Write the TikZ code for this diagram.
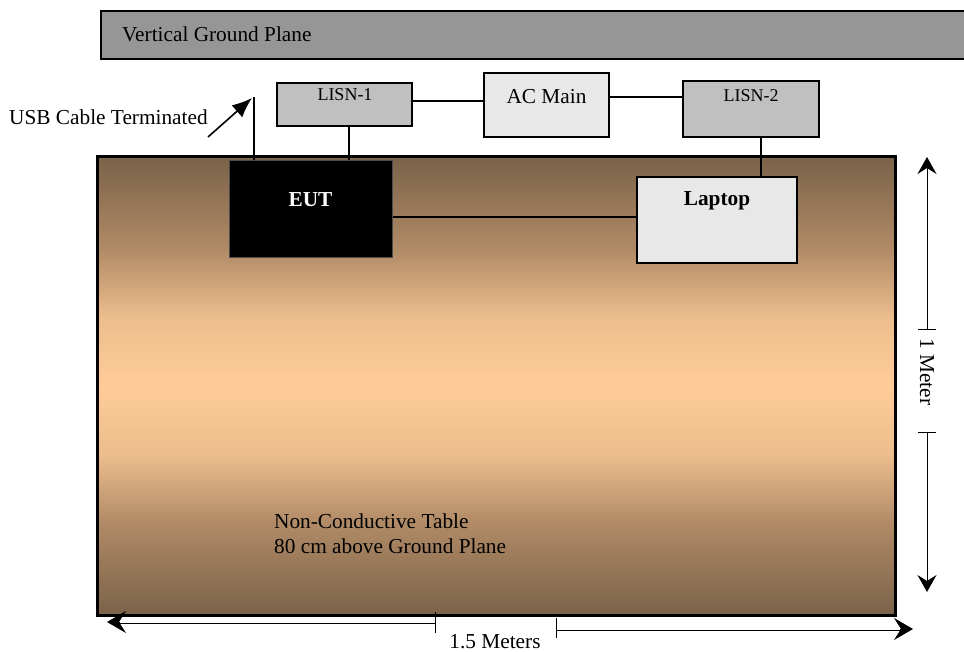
\documentclass[tikz,border=0pt]{standalone}
\usepackage{fontspec}
\setmainfont{Liberation Serif}
\usetikzlibrary{arrows.meta}
\definecolor{vgp}{HTML}{969696}
\definecolor{lisn}{HTML}{C0C0C0}
\definecolor{lightbox}{HTML}{E8E8E8}
\definecolor{tbrown}{HTML}{7A6249}
\definecolor{tmid}{HTML}{B08A66}
\definecolor{tlight}{HTML}{ECBD8D}
\definecolor{peach}{HTML}{FFCC99}
\pgfdeclareverticalshading{tableshade}{100bp}{color(0bp)=(tbrown); color(25bp)=(tbrown); color(35bp)=(tmid); color(42.5bp)=(tlight); color(50bp)=(peach); color(57.5bp)=(tlight); color(65bp)=(tmid); color(75bp)=(tbrown); color(100bp)=(tbrown)}
\tikzset{
  box/.style={draw=black, line width=1.4pt, inner sep=0pt},
  conn/.style={line width=1.4pt},
  txt/.style={font=\fontsize{21.3}{25}\selectfont, inner sep=0pt},
  smalltxt/.style={font=\fontsize{18}{21}\selectfont, inner sep=0pt},
  dimline/.style={line width=1pt},
  dimtip/.style={-{Stealth[length=17pt,width=19pt,inset=6pt]}},
  htip/.style={-{Stealth[length=19pt,width=22pt,inset=7pt]}},
  dbl/.style={double=white, double distance=1.6pt, line width=0.7pt}
}
\begin{document}
\begin{tikzpicture}[x=1pt,y=-1pt]
\useasboundingbox (0,0) rectangle (964,652);
% vertical ground plane
\node[box, fill=vgp, line width=1.6pt, minimum width=900, minimum height=48, anchor=north west] (vgp) at (100,10) {};
\node[txt, anchor=west] (vgpt) at (122,34) {Vertical Ground Plane};
% table
\node[draw=black, line width=3pt, shading=tableshade, minimum width=798, minimum height=459, anchor=north west, inner sep=0pt] (table) at (96,155) {};
\node[txt, anchor=north west, align=left] (tablet) at (274,514) {Non-Conductive Table\\80 cm above Ground Plane};
% boxes
\node[box, fill=lisn, minimum width=135, minimum height=43] (lisn1) at (344.5,104.5) {};
\node[smalltxt] (lisn1t) at (345,95) {LISN-1};
\node[box, fill=lightbox, minimum width=125, minimum height=64] (acmain) at (546.5,105) {};
\node[txt] (acmaint) at (546.5,97) {AC Main};
\node[box, fill=lisn, minimum width=136, minimum height=56] (lisn2) at (751,109) {};
\node[smalltxt] (lisn2t) at (751,96) {LISN-2};
\node[draw=black!70, line width=1pt, fill=black, minimum width=163, minimum height=97, inner sep=0pt] (eut) at (310.5,209.5) {};
\node[txt, text=white, font=\fontsize{21.3}{25}\selectfont\bfseries] (eutt) at (310.5,200) {EUT};
\node[box, fill=lightbox, minimum width=160, minimum height=86] (laptop) at (717,220) {};
\node[txt, font=\fontsize{21.3}{25}\selectfont\bfseries] (laptopt) at (717,201) {Laptop};
% connectors
\draw[conn] (lisn1.east |- 0,101) -- (acmain.west |- 0,101);
\draw[conn] (acmain.east |- 0,97) -- (lisn2.west |- 0,97);
\draw[conn] (lisn1.south -| 349,0) -- (eut.north -| 349,0);
\draw[conn] (lisn2.south -| 761,0) -- (laptop.north -| 761,0);
\draw[conn] (eut.east |- 0,217) -- (laptop.west |- 0,217);
\coordinate (usbtop) at (254,97);
\draw[conn] (eut.north -| usbtop) -- (usbtop);
% USB label and arrow
\node[txt, anchor=west] (usbt) at (9,117) {USB Cable Terminated};
\coordinate (usbtail) at (208,137);
\coordinate (usbtip) at (252,98);
\draw[line width=1.6pt, -{Latex[length=20pt,width=16pt]}] (usbtail) -- (usbtip);
% vertical dimension
\coordinate (vtop) at (927,157);
\coordinate (vt1) at (927,330);
\coordinate (vt2) at (927,432);
\coordinate (vbot) at (927,592);
\draw[dimline, dimtip] (vt1) -- (vtop);
\draw[dimline, dimtip] (vt2) -- (vbot);
\draw[dimline] (918,330) -- (936,330);
\draw[dimline] (918,432) -- (936,432);
\node[txt, rotate=-90] (vdimt) at (927,372) {1 Meter};
% horizontal dimension
\coordinate (hl) at (107,622);
\coordinate (ht1) at (435,622);
\coordinate (ht2) at (556,629);
\coordinate (hr) at (913,629);
\draw[dbl] (ht1) -- ([xshift=12pt]hl);
\draw[dimline, htip] ([xshift=13pt]hl) -- (hl);
\draw[dbl] (ht2) -- ([xshift=-12pt]hr);
\draw[dimline, htip] ([xshift=-13pt]hr) -- (hr);
\draw[dimline] (435,612) -- (435,633);
\draw[dimline] (556,618) -- (556,638);
\node[txt] (hdimt) at (495,642) {1.5 Meters};
\end{tikzpicture}
\end{document}
